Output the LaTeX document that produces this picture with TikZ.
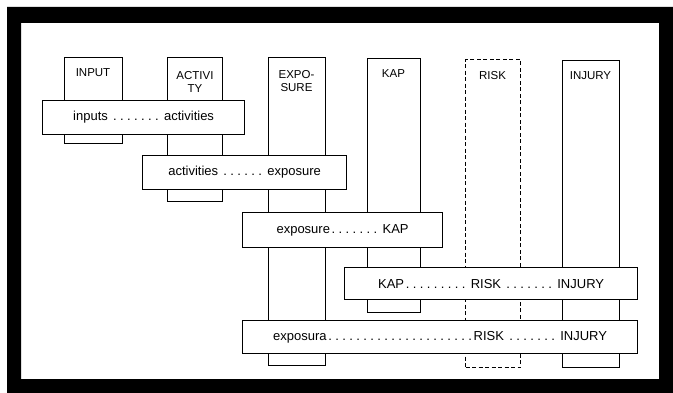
\documentclass[tikz,border=0pt]{standalone}
\usepackage{fontspec}
\setmainfont{Liberation Sans}
\newcommand\dt{\makebox[7pt]{.}}
\newcommand\dts[1]{\foreach \i in {1,...,#1}{\dt}}
\begin{document}
\begin{tikzpicture}[x=1pt,y=-1pt,
  colbox/.style={draw, line width=1.2pt, fill=white, inner sep=0pt, anchor=north west},
  barbox/.style={draw, line width=1.2pt, fill=white, inner sep=0pt, anchor=north west,
    font=\fontsize{13}{14}\selectfont},
  riskdash/.style={dash pattern=on 4pt off 2.5pt},
  lbl/.style={font=\fontsize{11.5}{12.5}\selectfont, align=center, inner sep=0pt}]
\useasboundingbox (0,0) rectangle (673,393);
% scanned black frame
\fill[even odd rule] (7,7) rectangle (673,393) (21,23) rectangle (659,379);
% columns
\node[colbox, minimum width=58pt, minimum height=86pt] (input) at (64,57) {};
\node[colbox, minimum width=55pt, minimum height=144pt] (activity) at (167,57) {};
\node[colbox, minimum width=57pt, minimum height=308pt] (exposure) at (268,57) {};
\node[colbox, minimum width=53pt, minimum height=254pt] (kap) at (367,58) {};
\node[colbox, riskdash, minimum width=55pt, minimum height=308pt] (risk) at (465,59) {};
\node[colbox, minimum width=57pt, minimum height=307pt] (injury) at (562,60) {};
% column labels
\node[lbl] (linput) at (93,73) {INPUT};
\node[lbl] (lactivity) at (195,82) {ACTIVI\\TY};
\node[lbl] (lexposure) at (296.5,81) {EXPO-\\SURE};
\node[lbl] (lkap) at (393.5,74) {KAP};
\node[lbl] (lrisk) at (492.5,76) {RISK};
\node[lbl] (linjury) at (590.5,76) {INJURY};
% bars
\node[barbox, minimum width=202pt, minimum height=34pt] (b1) at (42,100) {inputs \dts{7} activities};
\node[barbox, minimum width=204pt, minimum height=34pt] (b2) at (142,155) {activities \dts{6} exposure};
\node[barbox, minimum width=200pt, minimum height=35pt] (b3) at (242,212) {exposure\dts{7} KAP};
\node[barbox, minimum width=293pt, minimum height=32pt] (b4) at (344,267) {KAP\dts{9} RISK \dts{7} INJURY};
\node[barbox, minimum width=395pt, minimum height=33pt] (b5) at (242,320) {exposura\dts{21}RISK \dts{7} INJURY};
\end{tikzpicture}
\end{document}
